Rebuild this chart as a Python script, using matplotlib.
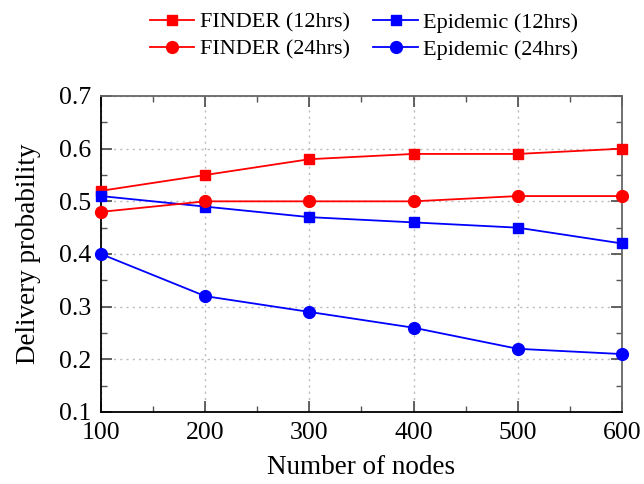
import matplotlib
matplotlib.use("Agg")
import matplotlib.pyplot as plt
from matplotlib.ticker import MultipleLocator

nodes = [100, 200, 300, 400, 500, 600]
finder_12 = [0.52, 0.55, 0.58, 0.59, 0.59, 0.60]
finder_24 = [0.48, 0.50, 0.50, 0.50, 0.51, 0.51]
epidemic_12 = [0.51, 0.49, 0.47, 0.46, 0.45, 0.42]
epidemic_24 = [0.40, 0.32, 0.29, 0.26, 0.22, 0.21]

plt.rcParams['font.family'] = ['Liberation Serif', 'DejaVu Serif']

fig = plt.figure(figsize=(6.44, 4.84), dpi=100)
ax = fig.add_axes([101/644, 1 - 412/484, (622-101)/644, (412-96)/484])

l1, = ax.plot(nodes, finder_12, color='#ff0000', marker='s', markersize=7.5, lw=1.3, label='FINDER (12hrs)', clip_on=False, zorder=3)
l2, = ax.plot(nodes, epidemic_12, color='#0000ff', marker='s', markersize=7.5, lw=1.3, label='Epidemic (12hrs)', clip_on=False, zorder=3)
l3, = ax.plot(nodes, finder_24, color='#ff0000', marker='o', markersize=8.5, lw=1.3, label='FINDER (24hrs)', clip_on=False, zorder=3)
l4, = ax.plot(nodes, epidemic_24, color='#0000ff', marker='o', markersize=8.5, lw=1.3, label='Epidemic (24hrs)', clip_on=False, zorder=3)

ax.set_xlim(100, 600)
ax.set_ylim(0.1, 0.7)
ax.xaxis.set_major_locator(MultipleLocator(100))
ax.xaxis.set_minor_locator(MultipleLocator(50))
ax.yaxis.set_major_locator(MultipleLocator(0.1))
ax.yaxis.set_minor_locator(MultipleLocator(0.05))
ax.set_yticks([0.1, 0.2, 0.3, 0.4, 0.5, 0.6, 0.7])
ax.set_yticklabels(['0.1', '0.2', '0.3', '0.4', '0.5', '0.6', '0.7'])
ax.tick_params(which='both', direction='in', top=True, right=True, labelsize=18.5, color='#555555')
ax.tick_params(which='major', length=8, width=1.3, pad=7)
ax.tick_params(which='minor', length=4, width=1)
for s in ax.spines.values():
    s.set_color('#666666')
    s.set_linewidth(1.3)
ax.spines['left'].set_color('black')
ax.spines['bottom'].set_color('black')
ax.grid(True, which='major', color='#bbbbbb', linestyle=(0, (1.5, 3)), lw=1)
ax.set_axisbelow(True)

ax.set_xlabel('Number of nodes', fontsize=19.5, labelpad=8)
ax.set_ylabel('Delivery probability', fontsize=19.5, labelpad=13)

fig.legend(handles=[l1, l3, l2, l4], ncol=2, loc='upper left', bbox_to_anchor=(150/644, 1 - 12/484),
           frameon=False, fontsize=16, handlelength=2.0, columnspacing=1.05,
           handletextpad=0.25, labelspacing=0.3, borderpad=0, borderaxespad=0)

fig.savefig('out.png', dpi=100)
